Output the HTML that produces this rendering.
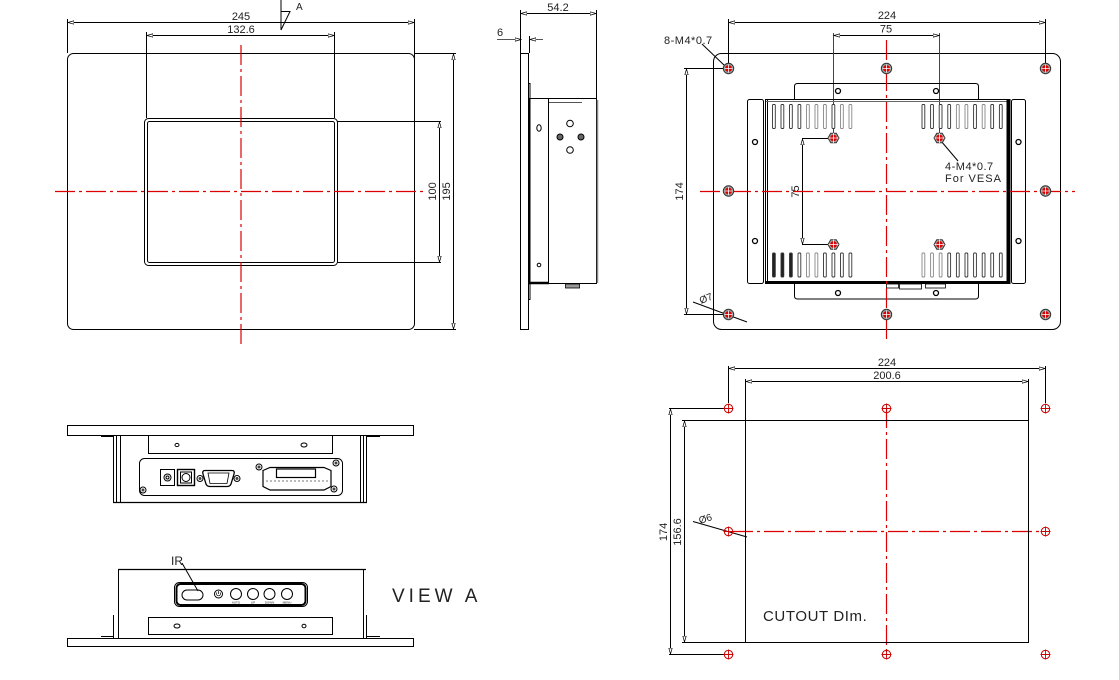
<!DOCTYPE html>
<html><head><meta charset="utf-8"><style>
html,body{margin:0;padding:0;background:#fff;}
svg{display:block;}
text{font-family:"Liberation Sans",sans-serif;fill:#222;}
</style></head><body>
<svg width="1119" height="680" viewBox="0 0 1119 680" xmlns="http://www.w3.org/2000/svg">
<defs>
<marker id="ar" markerWidth="7" markerHeight="5" refX="6" refY="2.5" orient="auto-start-reverse" markerUnits="userSpaceOnUse">
<path d="M0,0.8 L6,2.5 L0,4.2 Z" fill="#fff" stroke="#000" stroke-width="0.7"/>
</marker>
<g id="hole">
<circle r="5.2" fill="#999" stroke="#333" stroke-width="1"/>
<circle r="3.4" fill="#d00"/>
<path d="M-4,0H4M0,-4V4" stroke="#fff" stroke-width="0.8"/>
</g>
<g id="vesa">
<polygon points="5.5,0 2.75,4.8 -2.75,4.8 -5.5,0 -2.75,-4.8 2.75,-4.8" fill="#aaa" stroke="#333" stroke-width="1"/>
<circle r="3.4" fill="#d00"/>
<path d="M-5,0H5M0,-5V5" stroke="#fff" stroke-width="0.8"/>
</g>
<g id="chole">
<circle r="4.2" fill="none" stroke="#c00" stroke-width="1"/>
<path d="M-5,0H5M0,-5V5" stroke="#c00" stroke-width="0.9"/>
</g>
<g id="scr">
<circle r="3" fill="none" stroke="#000" stroke-width="1"/>
<circle r="1.5" fill="#444"/>
</g>
</defs>

<g fill="none" stroke="#000" stroke-width="1">

<!-- ============ FRONT VIEW ============ -->
<rect x="67.5" y="53.5" width="347" height="276" rx="6"/>
<rect x="144.5" y="118.5" width="193" height="147" rx="4"/>
<rect x="147.5" y="121.5" width="187" height="141" rx="2"/>
<!-- dim 245 -->
<line x1="67.5" y1="19" x2="67.5" y2="53"/>
<line x1="414.5" y1="19" x2="414.5" y2="60"/>
<line x1="68" y1="22.5" x2="414" y2="22.5" marker-start="url(#ar)" marker-end="url(#ar)"/>
<!-- dim 132.6 -->
<line x1="146.5" y1="32" x2="146.5" y2="118"/>
<line x1="334.5" y1="32" x2="334.5" y2="118"/>
<line x1="147" y1="35.5" x2="334" y2="35.5" marker-start="url(#ar)" marker-end="url(#ar)"/>
<!-- dim 100 -->
<line x1="337" y1="121.5" x2="441" y2="121.5"/>
<line x1="337" y1="262.5" x2="441" y2="262.5"/>
<line x1="439.5" y1="122" x2="439.5" y2="262" marker-start="url(#ar)" marker-end="url(#ar)"/>
<!-- dim 195 -->
<line x1="414" y1="53.5" x2="456" y2="53.5"/>
<line x1="414" y1="329.5" x2="456" y2="329.5"/>
<line x1="453.5" y1="54" x2="453.5" y2="329" marker-start="url(#ar)" marker-end="url(#ar)"/>
<!-- section marker A -->
<line x1="281" y1="0" x2="281" y2="30"/>
<polyline points="281,11.5 290,11.5 281,30"/>

<!-- ============ SIDE VIEW ============ -->
<line x1="520.5" y1="10" x2="520.5" y2="53"/>
<line x1="596.5" y1="10" x2="596.5" y2="98"/>
<line x1="521" y1="13.5" x2="596" y2="13.5" marker-start="url(#ar)" marker-end="url(#ar)"/>
<line x1="497" y1="39.5" x2="521" y2="39.5" stroke="#555" marker-end="url(#ar)"/>
<line x1="543" y1="39.5" x2="530" y2="39.5" stroke="#555" marker-end="url(#ar)"/>
<line x1="529.5" y1="36" x2="529.5" y2="53"/>
<rect x="520.5" y="53.5" width="8" height="276"/>
<rect x="528.5" y="83.5" width="1.5" height="216"/>
<rect x="529.5" y="98.5" width="67" height="185"/>
<line x1="548.5" y1="98" x2="548.5" y2="283"/>
<line x1="549" y1="102.5" x2="582" y2="102.5" stroke="#555"/>
<line x1="597.5" y1="100" x2="597.5" y2="283" stroke="#888" stroke-width="1.5"/>
<line x1="529" y1="283" x2="549" y2="283" stroke-width="2.5"/>
<ellipse cx="539" cy="128" rx="2.2" ry="3.2"/>
<circle cx="539" cy="265" r="1.8"/>
<circle cx="570" cy="123.5" r="3.3"/>
<circle cx="570" cy="150" r="3.3"/>
<circle cx="560" cy="137" r="3" fill="#666"/>
<circle cx="581" cy="137" r="3" fill="#666"/>
<rect x="565.5" y="284" width="14" height="4" fill="#999" stroke-width="0.8"/>

<!-- ============ REAR VIEW ============ -->
<rect x="713.5" y="53.5" width="347" height="276" rx="8"/>
<!-- dims -->
<line x1="728.5" y1="19" x2="728.5" y2="63"/>
<line x1="1045.5" y1="19" x2="1045.5" y2="63"/>
<line x1="729" y1="22.5" x2="1045" y2="22.5" marker-start="url(#ar)" marker-end="url(#ar)"/>
<line x1="833.5" y1="33" x2="833.5" y2="133" stroke="#444"/>
<line x1="939.5" y1="33" x2="939.5" y2="133" stroke="#444"/>
<line x1="834" y1="35.5" x2="939" y2="35.5" marker-start="url(#ar)" marker-end="url(#ar)"/>
<line x1="684" y1="68.5" x2="723" y2="68.5"/>
<line x1="684" y1="314.5" x2="723" y2="314.5"/>
<line x1="686.5" y1="69" x2="686.5" y2="314" marker-start="url(#ar)" marker-end="url(#ar)"/>
<line x1="802" y1="138.5" x2="829" y2="138.5"/>
<line x1="802" y1="244.5" x2="829" y2="244.5"/>
<line x1="802.5" y1="139" x2="802.5" y2="244" marker-start="url(#ar)" marker-end="url(#ar)"/>
<!-- leaders -->
<line x1="702" y1="44" x2="725" y2="66"/>
<line x1="941" y1="141" x2="958" y2="161"/>
<line x1="693" y1="302" x2="747" y2="322"/>
<!-- brackets -->
<path d="M794.5,99.5 V86.5 Q794.5,83.5 797.5,83.5 H975.5 Q978.5,83.5 978.5,86.5 V99.5"/>
<circle cx="838" cy="91" r="2.5" stroke-width="1.3"/>
<circle cx="936" cy="91" r="2.5" stroke-width="1.3"/>
<path d="M794.5,284 V296 Q794.5,299 797.5,299 H975.5 Q978.5,299 978.5,296 V284"/>
<circle cx="838" cy="293" r="2.5" stroke-width="1.3"/>
<circle cx="936" cy="293" r="2.5" stroke-width="1.3"/>
<!-- body -->
<rect x="765.5" y="99.5" width="244" height="184"/>
<line x1="767.5" y1="100" x2="767.5" y2="283"/>
<line x1="766" y1="101.5" x2="1008" y2="101.5" stroke="#666"/>
<line x1="766" y1="282" x2="1008" y2="282" stroke-width="2"/>
<rect x="1007" y="99.5" width="3" height="184" fill="#000"/>
<rect x="747.5" y="99.5" width="16" height="184" rx="2"/>
<circle cx="755" cy="142" r="2.5" stroke-width="1.3"/>
<circle cx="755" cy="241" r="2.5" stroke-width="1.3"/>
<rect x="1011.5" y="99.5" width="14" height="184" rx="2"/>
<circle cx="1018.5" cy="142" r="2.5" stroke-width="1.3"/>
<circle cx="1018.5" cy="241" r="2.5" stroke-width="1.3"/>
<!-- connector bits -->
<rect x="886.5" y="284" width="12" height="4" stroke-width="0.8"/>
<rect x="899.5" y="284" width="22" height="5" stroke-width="0.8"/>
<rect x="925.5" y="284" width="20" height="4" stroke-width="0.8"/>
</g>

<!-- vent slots -->
<g fill="#fff" stroke="#333" stroke-width="0.9">
<rect x="772.5" y="104.5" width="2.8" height="24" rx="1"/><rect x="781" y="104.5" width="2.8" height="24" rx="1"/><rect x="789.5" y="104.5" width="2.8" height="24" rx="1"/><rect x="798" y="104.5" width="2.8" height="24" rx="1"/><rect x="806.5" y="104.5" width="2.8" height="24" rx="1" stroke="#888"/><rect x="815" y="104.5" width="2.8" height="24" rx="1" stroke="#888"/><rect x="823.5" y="104.5" width="2.8" height="24" rx="1" stroke="#888"/><rect x="832" y="104.5" width="2.8" height="24" rx="1"/><rect x="840.5" y="104.5" width="2.8" height="24" rx="1" stroke="#888"/><rect x="849" y="104.5" width="2.8" height="24" rx="1" stroke="#888"/>
<rect x="922" y="104.5" width="2.8" height="24" rx="1"/><rect x="930.6" y="104.5" width="2.8" height="24" rx="1"/><rect x="939.2" y="104.5" width="2.8" height="24" rx="1"/><rect x="947.8" y="104.5" width="2.8" height="24" rx="1"/><rect x="956.4" y="104.5" width="2.8" height="24" rx="1" stroke="#888"/><rect x="965" y="104.5" width="2.8" height="24" rx="1" stroke="#888"/><rect x="973.6" y="104.5" width="2.8" height="24" rx="1"/><rect x="982.2" y="104.5" width="2.8" height="24" rx="1" stroke="#888"/><rect x="990.8" y="104.5" width="2.8" height="24" rx="1"/><rect x="999.4" y="104.5" width="2.8" height="24" rx="1"/>
<rect x="772.5" y="253" width="2.8" height="24" rx="1" fill="#222"/><rect x="781" y="253" width="2.8" height="24" rx="1" fill="#222"/><rect x="789.5" y="253" width="2.8" height="24" rx="1" fill="#222"/><rect x="798" y="253" width="2.8" height="24" rx="1"/><rect x="806.5" y="253" width="2.8" height="24" rx="1" stroke="#888"/><rect x="815" y="253" width="2.8" height="24" rx="1" stroke="#888"/><rect x="823.5" y="253" width="2.8" height="24" rx="1"/><rect x="832" y="253" width="2.8" height="24" rx="1"/><rect x="840.5" y="253" width="2.8" height="24" rx="1"/><rect x="849" y="253" width="2.8" height="24" rx="1"/>
<rect x="922" y="253" width="2.8" height="24" rx="1" stroke="#888"/><rect x="930.6" y="253" width="2.8" height="24" rx="1" stroke="#888"/><rect x="939.2" y="253" width="2.8" height="24" rx="1" stroke="#888"/><rect x="947.8" y="253" width="2.8" height="24" rx="1"/><rect x="956.4" y="253" width="2.8" height="24" rx="1"/><rect x="965" y="253" width="2.8" height="24" rx="1"/><rect x="973.6" y="253" width="2.8" height="24" rx="1"/><rect x="982.2" y="253" width="2.8" height="24" rx="1"/><rect x="990.8" y="253" width="2.8" height="24" rx="1"/><rect x="999.4" y="253" width="2.8" height="24" rx="1"/>
</g>

<!-- red center lines -->
<g stroke="#d00" stroke-width="1.2" fill="none" stroke-dasharray="20,4,3,4">
<line x1="241" y1="45" x2="241" y2="348"/>
<line x1="55" y1="191.5" x2="423" y2="191.5"/>
<line x1="886.5" y1="40" x2="886.5" y2="340"/>
<line x1="700" y1="191.5" x2="1075" y2="191.5"/>
<line x1="886.5" y1="408" x2="886.5" y2="654"/>
<line x1="733" y1="531.5" x2="1041" y2="531.5"/>
</g>

<!-- rear holes -->
<use href="#hole" x="728.5" y="68.5"/><use href="#hole" x="886.5" y="68.5"/><use href="#hole" x="1045.5" y="68.5"/>
<use href="#hole" x="728.5" y="191"/><use href="#hole" x="1045.5" y="191"/>
<use href="#hole" x="728.5" y="314.5"/><use href="#hole" x="886.5" y="314.5"/><use href="#hole" x="1045.5" y="314.5"/>
<use href="#vesa" x="833.5" y="138"/><use href="#vesa" x="939.5" y="138"/>
<use href="#vesa" x="833.5" y="244.5"/><use href="#vesa" x="939.5" y="244.5"/>

<!-- ============ BOTTOM VIEW ============ -->
<g fill="none" stroke="#000" stroke-width="1">
<rect x="67.5" y="425.5" width="346" height="10"/>
<line x1="113.5" y1="435" x2="113.5" y2="503"/>
<line x1="116.5" y1="435" x2="116.5" y2="503"/>
<line x1="120.5" y1="435" x2="120.5" y2="503"/>
<line x1="360.5" y1="435" x2="360.5" y2="503"/>
<line x1="363.5" y1="435" x2="363.5" y2="503"/>
<line x1="366.5" y1="435" x2="366.5" y2="503"/>
<line x1="101" y1="436.5" x2="113" y2="436.5"/>
<line x1="367" y1="436.5" x2="380" y2="436.5"/>
<line x1="113" y1="502.5" x2="367" y2="502.5" stroke-width="1.3"/>
<rect x="148.5" y="435.5" width="184" height="18"/>
<ellipse cx="177" cy="445" rx="2" ry="1.6"/>
<ellipse cx="304" cy="445" rx="3" ry="2"/>
<rect x="139.5" y="458.5" width="203" height="37" rx="5"/>
<rect x="160.5" y="469.5" width="14" height="16"/>
<circle cx="167.5" cy="477.5" r="3.5"/>
<circle cx="167.5" cy="477.5" r="1.5"/>
<rect x="177.5" y="469.5" width="17" height="16" stroke-width="1.4"/>
<rect x="180.5" y="472" width="11" height="11"/>
<circle cx="186" cy="477.5" r="4"/>
<path d="M205,470.5 H232 Q235,470.5 234,474 L231,484 Q230,486.5 227,486.5 H210 Q207,486.5 206,484 L203,474 Q202,470.5 205,470.5 Z" stroke-width="1.3"/>
<path d="M208,473 H229 L227,483.5 H210 Z" stroke-width="0.8"/>
<path d="M263,470.5 L270,467.5 H324 L331,470.5 V486.5 L324,490 H270 L263,486.5 Z" stroke-width="1.2"/>
<rect x="276.5" y="469" width="39" height="8.5" stroke-width="1.2"/>
<line x1="266" y1="481" x2="328" y2="481" stroke="#777" stroke-dasharray="2,2"/>
</g>
<use href="#scr" x="143" y="490"/><use href="#scr" x="336" y="463"/><use href="#scr" x="259" y="467"/><use href="#scr" x="334" y="489"/>
<use href="#scr" x="200" y="478.5"/><use href="#scr" x="237" y="478.5"/>

<!-- ============ VIEW A ============ -->
<g fill="none" stroke="#000" stroke-width="1">
<line x1="118" y1="569.5" x2="366" y2="569.5" stroke-width="1.3"/>
<line x1="118.5" y1="569" x2="118.5" y2="638"/>
<line x1="113.5" y1="615" x2="113.5" y2="638"/>
<line x1="363.5" y1="569" x2="363.5" y2="638"/>
<line x1="366.5" y1="615" x2="366.5" y2="638"/>
<line x1="101" y1="636.5" x2="113" y2="636.5"/>
<line x1="367" y1="636.5" x2="380" y2="636.5"/>
<rect x="67.5" y="638.5" width="346" height="8"/>
<rect x="148.5" y="617.5" width="184" height="17"/>
<ellipse cx="177" cy="626" rx="3" ry="2"/>
<ellipse cx="304" cy="626" rx="2" ry="1.8"/>
<rect x="174.5" y="582.5" width="133" height="24" rx="5" stroke-width="1"/>
<rect x="176.5" y="584" width="129" height="21" rx="4" stroke-width="2"/>
<rect x="182" y="590" width="21" height="10" rx="5"/>
<circle cx="218.5" cy="594" r="4"/>
<path d="M217,592.5 A2,2 0 1 0 220,592.5 M218.5,591 V594" stroke-width="0.7"/>
<circle cx="236" cy="594" r="5.5"/>
<circle cx="253" cy="594" r="5.5"/>
<circle cx="269.5" cy="594" r="5.5"/>
<circle cx="287" cy="594" r="5.5"/>
<line x1="182" y1="563" x2="198" y2="591"/>
</g>
<g font-size="3" text-anchor="middle" fill="#333">
<text x="236" y="603.5">AUTO</text><text x="253" y="603.5">UP</text><text x="269.5" y="603.5">DOWN</text><text x="287" y="603.5">MENU</text>
</g>

<!-- ============ CUTOUT ============ -->
<g fill="none" stroke="#000" stroke-width="1">
<line x1="728.5" y1="366" x2="728.5" y2="403"/>
<line x1="1045.5" y1="366" x2="1045.5" y2="403"/>
<line x1="729" y1="368.5" x2="1045" y2="368.5" marker-start="url(#ar)" marker-end="url(#ar)"/>
<line x1="745.5" y1="379" x2="745.5" y2="421"/>
<line x1="1028.5" y1="379" x2="1028.5" y2="421"/>
<line x1="746" y1="381.5" x2="1028" y2="381.5" marker-start="url(#ar)" marker-end="url(#ar)"/>
<rect x="745.5" y="420.5" width="283" height="222"/>
<line x1="682" y1="420.5" x2="745" y2="420.5"/>
<line x1="682" y1="642.5" x2="745" y2="642.5"/>
<line x1="684.5" y1="421" x2="684.5" y2="642" marker-start="url(#ar)" marker-end="url(#ar)"/>
<line x1="669" y1="408.5" x2="724" y2="408.5"/>
<line x1="669" y1="654.5" x2="724" y2="654.5"/>
<line x1="670.5" y1="409" x2="670.5" y2="654" marker-start="url(#ar)" marker-end="url(#ar)"/>
<line x1="693" y1="521.5" x2="747" y2="537"/>
</g>
<use href="#chole" x="728.5" y="408.5"/><use href="#chole" x="886.5" y="408.5"/><use href="#chole" x="1045.5" y="408.5"/>
<use href="#chole" x="728.5" y="531.5"/><use href="#chole" x="1045.5" y="531.5"/>
<use href="#chole" x="728.5" y="654.5"/><use href="#chole" x="886.5" y="654.5"/><use href="#chole" x="1045.5" y="654.5"/>

<!-- ============ TEXT ============ -->
<g font-size="11" text-anchor="middle">
<text x="241" y="20">245</text>
<text x="241" y="33">132.6</text>
<text transform="translate(436,191.5) rotate(-90)">100</text>
<text transform="translate(450,191.5) rotate(-90)">195</text>
<text x="558" y="11">54.2</text>
<text x="887" y="19">224</text>
<text x="886" y="32.5">75</text>
<text transform="translate(683,191.5) rotate(-90)">174</text>
<text transform="translate(799,191.5) rotate(-90)">75</text>
<text x="887" y="366">224</text>
<text x="887" y="379">200.6</text>
<text transform="translate(667,532) rotate(-90)">174</text>
<text transform="translate(681,532) rotate(-90)">156.6</text>
</g>
<text x="296" y="10" font-size="10">A</text>
<text x="497" y="36" font-size="11">6</text>
<text x="664" y="44" font-size="11" letter-spacing="0.5">8-M4*0.7</text>
<text x="945" y="170" font-size="11" letter-spacing="0.5">4-M4*0.7</text>
<text x="945" y="182" font-size="11" letter-spacing="1">For VESA</text>
<text transform="translate(701,304) rotate(-22)" font-size="10">Ø7</text>
<text transform="translate(700,524) rotate(-18)" font-size="10">Ø6</text>
<text x="171" y="565" font-size="12">IR</text>
<text x="392" y="602" font-size="19" letter-spacing="4" fill="#333">VIEW A</text>
<text x="763" y="621" font-size="15" letter-spacing="0.6" fill="#333">CUTOUT DIm.</text>
</svg>
</body></html>
